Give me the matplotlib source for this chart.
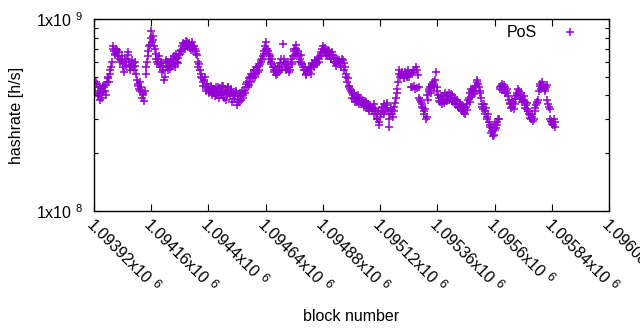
import numpy as np
import matplotlib
matplotlib.use("Agg")
import matplotlib.pyplot as plt
from matplotlib.ticker import FixedLocator, NullFormatter, LogLocator
from matplotlib.transforms import ScaledTranslation, IdentityTransform

plt.rcParams['font.family'] = ['Liberation Sans', 'DejaVu Sans']
plt.rcParams['mathtext.fontset'] = 'custom'
plt.rcParams['mathtext.rm'] = 'Liberation Sans'
plt.rcParams['mathtext.it'] = 'Liberation Sans'

# block numbers: two interleaved samplings, every 6 blocks each
block_start = 1093926
block_step = 6

# PoS hashrate in MH/s, samples at block_start + 6*i
hashrate_mhs = [
    420, 460, 405, 380, 430, 415, 440, 455, 470, 500, 520, 560, 700, 680, 660, 690, 640, 620, 610, 580,
    530, 600, 620, 670, 575, 560, 590, 545, 570, 480, 450, 420, 445, 400, 375, 560, 600, 680, 730, 870,
    780, 720, 660, 600, 620, 560, 590, 540, 480, 560, 600, 570, 550, 600, 580, 640, 620, 600, 630, 660,
    680, 700, 740, 720, 760, 740, 710, 730, 700, 720, 680, 650, 560, 540, 520, 470, 480, 440, 460, 430,
    420, 440, 410, 430, 445, 400, 420, 435, 410, 450, 390, 425, 405, 440, 395, 420, 400, 385, 410, 355,
    395, 410, 380, 400, 420, 440, 470, 455, 500, 520, 490, 540, 520, 560, 540, 580, 610, 640, 680, 760,
    700, 660, 640, 600, 560, 530, 545, 520, 560, 590, 540, 740, 620, 580, 550, 565, 545, 600, 640, 680,
    730, 660, 640, 620, 600, 560, 540, 520, 545, 530, 550, 560, 580, 570, 600, 590, 620, 640, 670, 720,
    690, 670, 650, 680, 640, 620, 650, 600, 590, 620, 580, 600, 570, 610, 540, 500, 470, 450, 430, 410,
    400, 385, 395, 370, 380, 390, 365, 375, 355, 370, 350, 340, 355, 330, 345, 360, 320, 300, 280, 310,
    330, 345, 360, 340, 355, 275, 320, 335, 310, 350, 390, 430, 520, 500, 530, 510, 490, 520, 500, 515,
    520, 440, 530, 545, 560, 435, 440, 380, 360, 345, 330, 300, 400, 420, 440, 455, 470, 450, 530, 420,
    390, 370, 385, 395, 365, 380, 400, 410, 385, 400, 370, 385, 360, 375, 345, 355, 330, 340, 320, 350,
    360, 390, 410, 395, 430, 420, 450, 480, 440, 410, 360, 340, 330, 345, 310, 290, 275, 260, 245, 265,
    270, 290, 300, 440, 460, 430, 445, 420, 410, 380, 365, 350, 370, 360, 395, 410, 420, 400, 390, 380,
    370, 355, 340, 320, 305, 310, 295, 330, 355, 370, 420, 460, 440, 455, 430, 440, 380, 350, 300, 285,
    280, 290,
]

# PoS hashrate in MH/s, samples at block_start + 3 + 6*i
hashrate_mhs_mid = [
    470, 395, 440, 410, 390, 450, 420, 400, 490, 470, 540, 600, 720, 650, 700, 640, 670, 600, 640, 560,
    620, 570, 650, 600, 540, 610, 560, 600, 520, 460, 430, 470, 390, 410, 420, 520, 640, 720, 800, 760,
    820, 700, 620, 580, 640, 600, 530, 570, 500, 610, 540, 590, 620, 570, 610, 560, 660, 590, 650, 690,
    720, 750, 700, 770, 730, 750, 690, 760, 720, 700, 660, 600, 580, 500, 490, 450, 500, 420, 440, 410,
    450, 400, 430, 395, 415, 440, 390, 410, 450, 400, 420, 380, 440, 410, 430, 370, 410, 395, 420, 380,
    370, 400, 420, 390, 410, 460, 440, 490, 470, 510, 540, 500, 560, 530, 570, 600, 620, 660, 720, 700,
    680, 620, 580, 620, 540, 560, 510, 570, 530, 620, 560, 600, 580, 540, 580, 530, 620, 580, 700, 650,
    700, 680, 600, 650, 580, 540, 560, 510, 530, 560, 520, 590, 560, 610, 580, 630, 600, 660, 700, 690,
    710, 640, 690, 660, 620, 670, 600, 630, 570, 600, 610, 560, 620, 590, 560, 520, 490, 440, 420, 390,
    410, 370, 380, 400, 360, 370, 380, 350, 375, 345, 360, 330, 350, 345, 320, 340, 300, 330, 290, 325,
    350, 320, 340, 365, 330, 300, 345, 320, 330, 365, 410, 470, 540, 510, 520, 495, 530, 505, 540, 500,
    440, 525, 450, 430, 540, 510, 390, 370, 350, 320, 340, 310, 380, 430, 410, 460, 440, 480, 445, 400,
    375, 395, 360, 380, 410, 375, 395, 380, 405, 375, 390, 360, 380, 350, 365, 340, 355, 325, 345, 335,
    380, 370, 430, 420, 405, 445, 470, 460, 420, 390, 350, 360, 320, 300, 320, 280, 255, 270, 250, 285,
    280, 300, 430, 450, 425, 455, 410, 430, 395, 360, 345, 375, 340, 385, 400, 430, 385, 410, 370, 395,
    345, 365, 330, 315, 300, 320, 300, 345, 365, 380, 450, 430, 470, 445, 420, 455, 360, 340, 295, 290,
    300, 275,
]

blocks_a = block_start + block_step * np.arange(len(hashrate_mhs))
blocks_b = block_start + block_step // 2 + block_step * np.arange(len(hashrate_mhs_mid))
blocks = np.concatenate([blocks_a, blocks_b])
hashrate = np.concatenate([hashrate_mhs, hashrate_mhs_mid]) * 1e6
order = np.argsort(blocks)
blocks, hashrate = blocks[order], hashrate[order]

x_ticks = [1093920 + 240 * k for k in range(10)]
x_tick_mantissas = [f"{v / 1e6:g}x10" for v in x_ticks]
x_tick_exponent = "6"
y_ticks = [1e8, 1e9]
y_tick_labels = ["1x10 $^{8}$", "1x10 $^{9}$"]

color = "#9400D3"
fs = 11.5

fig = plt.figure(figsize=(6.4, 3.3), dpi=100)
ax = fig.add_axes([94 / 640, 1 - 211 / 330, (609 - 94) / 640, (211 - 19) / 330])

ax.plot(blocks, hashrate, linestyle="none", marker="+", color=color,
        markersize=6, markeredgewidth=1.1, label="PoS")

ax.set_yscale("log")
ax.set_ylim(1e8, 1e9)
ax.set_xlim(1093920, 1096080)

ax.set_xticks(x_ticks)
ax.set_xticklabels(x_tick_mantissas, rotation=-45, ha="left", va="top",
                   rotation_mode="anchor", fontsize=fs)
shift = ScaledTranslation(13 / 100, 0, fig.dpi_scale_trans)
for lbl in ax.get_xticklabels():
    lbl.set_transform(lbl.get_transform() + shift)

ax.yaxis.set_major_locator(FixedLocator(y_ticks))
ax.set_yticklabels(y_tick_labels, fontsize=fs)
ax.yaxis.set_minor_locator(LogLocator(base=10, subs=np.arange(2, 10)))
ax.yaxis.set_minor_formatter(NullFormatter())

ax.tick_params(axis="both", which="major", direction="in", length=5, width=0.8,
               top=True, right=True, pad=8)
ax.tick_params(axis="x", which="major", pad=5)
ax.tick_params(axis="y", which="minor", direction="in", length=3, width=0.8,
               left=True, right=True)
for s in ax.spines.values():
    s.set_linewidth(1.0)

ax.set_xlabel("block number", fontsize=fs)
ax.xaxis.set_label_coords(0.5, -0.51)
ax.set_ylabel("hashrate [h/s]", fontsize=fs)
ax.yaxis.set_label_coords(-0.136, 0.5)

ax.legend(loc="upper right", frameon=False, markerfirst=False, fontsize=fs,
          handlelength=2.5, borderaxespad=0.0, bbox_to_anchor=(0.975, 1.0))

# raised exponent after each rotated x tick label
fig.canvas.draw()
renderer = fig.canvas.get_renderer()
for lbl in ax.get_xticklabels():
    if not lbl.get_text():
        continue
    bb = lbl.get_window_extent(renderer)
    anchor = lbl.get_transform().transform(lbl.get_position())
    end_x = bb.x1
    end_y = anchor[1] - (bb.x1 - anchor[0])
    fig.text(end_x + 3, end_y - 7, x_tick_exponent, rotation=-45,
             ha="center", va="center", rotation_mode="anchor",
             fontsize=9, transform=IdentityTransform())

fig.savefig("out.png", dpi=100)
